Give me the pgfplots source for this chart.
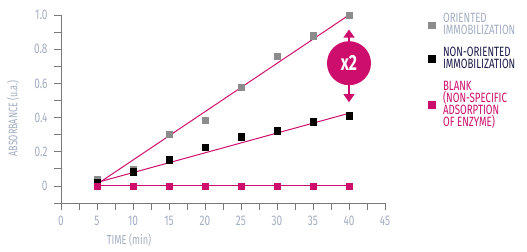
\documentclass[border=0pt]{standalone}
\usepackage{pgfplots}
\pgfplotsset{compat=1.18}
\usepackage{fontspec}
\setmainfont{Fira Sans}[FakeStretch=0.72]
\usetikzlibrary{arrows.meta}
\definecolor{pinkc}{HTML}{CE0E6C}
\definecolor{grayc}{HTML}{8C8C8C}
\definecolor{axc}{HTML}{7A7A7A}
\definecolor{tickc}{HTML}{A3AEC2}
\definecolor{navyc}{HTML}{1C1C4A}
\begin{document}
\begin{tikzpicture}
\useasboundingbox (0,0) rectangle (527bp,252bp);
\begin{axis}[
  at={(61bp,49bp)}, anchor=south west,
  scale only axis, width=324bp, height=188bp,
  xmin=0, xmax=45, ymin=-0.1, ymax=1.0,
  axis lines=left, axis line style={axc, line width=1pt, -},
  xtick={0,5,...,45}, minor xtick={2.5,7.5,...,42.5},
  ytick={0,0.2,0.4,0.6,0.8,1.0}, minor ytick={-0.1,0.1,0.3,0.5,0.7,0.9},
  yticklabels={0,0.2,0.4,0.6,0.8,1.0},
  tick style={axc, line width=0.8pt},
  major tick length=7bp, minor tick length=7bp,
  tick align=outside,
  /pgf/number format/assume math mode=true,
  ticklabel style={font=\fontsize{14}{14}\selectfont, text=tickc},
  xticklabel style={yshift=-3bp},
  yticklabel style={xshift=-3bp},
  xlabel={TIME (min)},
  xlabel style={at={(rel axis cs:0.21,-0.195)}, anchor=center, font=\fontsize{13}{13}\selectfont, text=tickc},
  ylabel={ABSORBANCE (u.a.)},
  ylabel style={at={(rel axis cs:-0.148,0.45)}, anchor=center, font=\fontsize{12.5}{13}\selectfont, text=tickc},
  clip=false,
  legend style={at={(rel axis cs:1.125,1.03)}, anchor=north west, draw=none, fill=none,
    font=\fontsize{13.5}{12}\selectfont, row sep=7bp,
    /tikz/every odd column/.append style={column sep=6bp},
    cells={align=left, anchor=north west}},
  legend cell align=left,
]
% trend lines
\addplot[pinkc, line width=1pt, forget plot] coordinates {(5,0.01) (40,1.0)};
\addplot[pinkc, line width=1pt, forget plot] coordinates {(5,0.02) (40,0.425)};
\addplot[pinkc, line width=1pt, forget plot] coordinates {(5,0) (40,0)};
% data
\addplot[only marks, mark=square*, mark size=3.2bp, color=grayc] coordinates {
 (5,0.04) (10,0.098) (15,0.304) (20,0.386) (25,0.578) (30,0.759) (35,0.88) (40,1.0)};
\addlegendentry[text=tickc]{ORIENTED\\IMMOBILIZATION}
\addplot[only marks, mark=square*, mark size=3.2bp, color=black] coordinates {
 (5,0.02) (10,0.084) (15,0.153) (20,0.225) (25,0.288) (30,0.324) (35,0.375) (40,0.41)};
\addlegendentry[text=navyc]{NON-ORIENTED\\IMMOBILIZATION\rule[-12bp]{0pt}{1bp}}
\addplot[only marks, mark=square*, mark size=3.2bp, color=pinkc] coordinates {
 (5,0) (10,0) (15,0) (20,0) (25,0) (30,0) (35,0) (40,0)};
\addlegendentry[text=pinkc]{BLANK\\(NON-SPECIFIC\\ADSORPTION\\OF ENZYME)}
% x2 annotation
\draw[pinkc, line width=1.2pt, -{Triangle[width=11bp,length=8bp]}] (axis cs:40,0.8) -- (axis cs:40,0.915);
\draw[pinkc, line width=1.2pt, -{Triangle[width=11bp,length=8bp]}] (axis cs:40,0.63) -- (axis cs:40,0.49);
\node[circle, fill=pinkc, minimum size=44bp, inner sep=0pt, text=white, font=\bfseries\fontsize{22}{22}\selectfont] at (axis cs:40,0.718) {x2};
\end{axis}
\end{tikzpicture}
\end{document}
